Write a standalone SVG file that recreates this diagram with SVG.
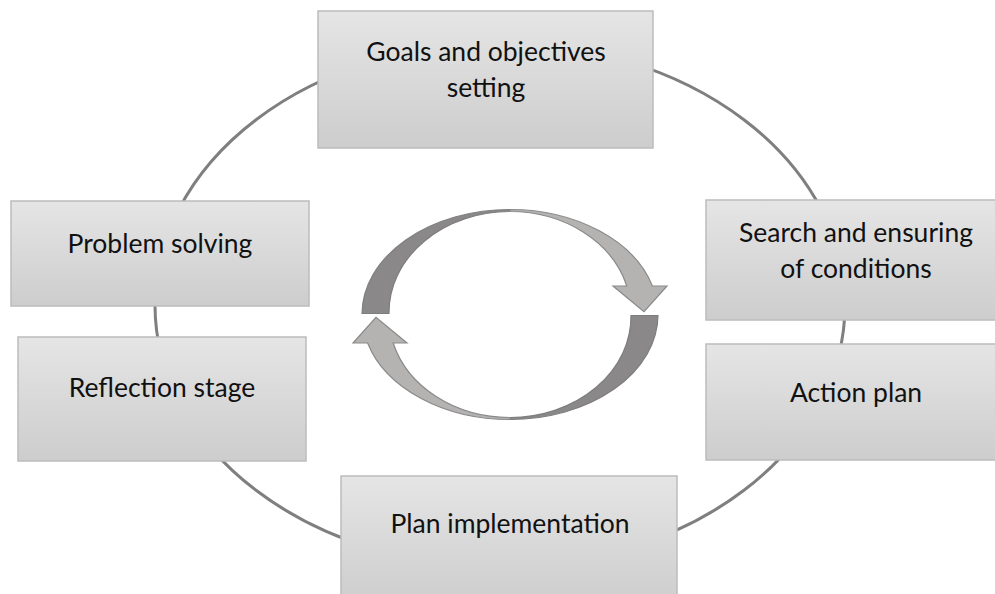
<svg xmlns="http://www.w3.org/2000/svg" width="995" height="594" viewBox="0 0 995 594">
<defs>
<linearGradient id="boxg" x1="0" y1="0" x2="0" y2="1">
<stop offset="0" stop-color="#e5e5e5"/>
<stop offset="1" stop-color="#cdcdcd"/>
</linearGradient>
<style>
.box{fill:url(#boxg);stroke:#bcbcbc;stroke-width:1.5}
.lbl{font-family:Lato,"Open Sans",sans-serif;font-size:26.5px;fill:#111;text-anchor:middle}
.dark{fill:#8a8888;stroke:#7e7e7e;stroke-width:1.2}
.light{fill:#b5b2b2;stroke:#8a8a8a;stroke-width:1.2}
</style>
<g id="arrowShape">
<path class="dark" d="M-148,-1 A148 105 0 0 1 0,-105 L0,-103 A121 101 0 0 0 -121,-1 Z"/>
<path class="light" d="M0,-105 A148 105 0 0 1 142.4,-28.5 L157,-28.5 L134,-2.8 L103,-28.5 L116.8,-28.5 A121 101 0 0 0 0,-103 Z"/>
</g>
</defs>
<rect width="995" height="594" fill="#fff"/>
<g id="connectors">
<ellipse cx="500" cy="305" rx="345" ry="262" fill="none" stroke="#7f7f7f" stroke-width="3"/>
</g>
<g id="cycle-arrows">
<use href="#arrowShape" transform="translate(510,314.5)"/>
<use href="#arrowShape" transform="translate(510,314.5) rotate(180)"/>
</g>
<g id="goals">
<rect class="box" x="318" y="11" width="335" height="137"/>
<text class="lbl" x="486" y="61">Goals and objectives</text>
<text class="lbl" x="486" y="97">setting</text>
</g>
<g id="search">
<rect class="box" x="706" y="200" width="300" height="120"/>
<text class="lbl" x="856" y="242">Search and ensuring</text>
<text class="lbl" x="856" y="278">of conditions</text>
</g>
<g id="action">
<rect class="box" x="706" y="344" width="300" height="116"/>
<text class="lbl" x="856" y="402">Action plan</text>
</g>
<g id="implementation">
<rect class="box" x="341" y="476" width="336" height="130"/>
<text class="lbl" x="510" y="533">Plan implementation</text>
</g>
<g id="reflection">
<rect class="box" x="18" y="337" width="288" height="124"/>
<text class="lbl" x="162" y="397">Reflection stage</text>
</g>
<g id="problem">
<rect class="box" x="11" y="201" width="298" height="105"/>
<text class="lbl" x="160" y="253">Problem solving</text>
</g>
</svg>
